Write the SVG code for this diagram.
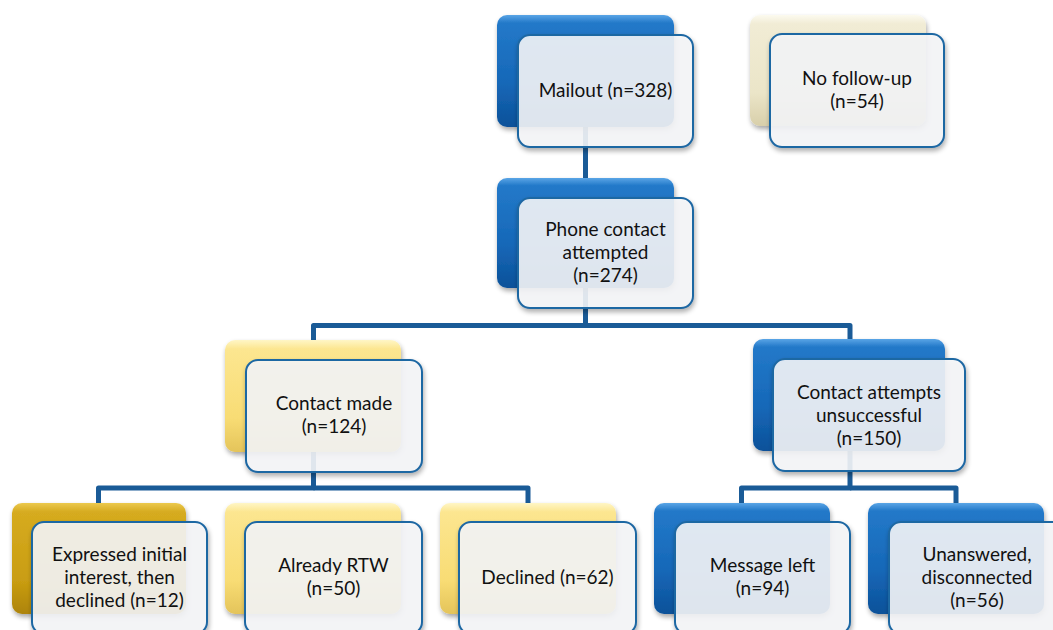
<svg xmlns="http://www.w3.org/2000/svg" width="1053" height="630" viewBox="0 0 1053 630">
  <defs>
    <linearGradient id="gBlue" x1="0" y1="0" x2="0" y2="1">
      <stop offset="0" stop-color="#5aa5e6"/>
      <stop offset="0.07" stop-color="#2379c9"/>
      <stop offset="0.6" stop-color="#1668b8"/>
      <stop offset="1" stop-color="#0c5199"/>
    </linearGradient>
    <linearGradient id="gYellow" x1="0" y1="0" x2="0" y2="1">
      <stop offset="0" stop-color="#fff6c6"/>
      <stop offset="0.08" stop-color="#fce690"/>
      <stop offset="0.7" stop-color="#f8dc74"/>
      <stop offset="1" stop-color="#e4c45a"/>
    </linearGradient>
    <linearGradient id="gGold" x1="0" y1="0" x2="0" y2="1">
      <stop offset="0" stop-color="#ecc94e"/>
      <stop offset="0.08" stop-color="#d6ab20"/>
      <stop offset="0.7" stop-color="#c99d12"/>
      <stop offset="1" stop-color="#ad8408"/>
    </linearGradient>
    <linearGradient id="gBeige" x1="0" y1="0" x2="0" y2="1">
      <stop offset="0" stop-color="#fcfaef"/>
      <stop offset="0.08" stop-color="#f1ecd5"/>
      <stop offset="0.7" stop-color="#ebe5c8"/>
      <stop offset="1" stop-color="#d8cfaa"/>
    </linearGradient>
    <filter id="shadow" x="-10%" y="-10%" width="130%" height="140%">
      <feGaussianBlur in="SourceAlpha" stdDeviation="2.5"/>
      <feOffset dx="1" dy="3" result="b"/>
      <feComponentTransfer><feFuncA type="linear" slope="0.35"/></feComponentTransfer>
      <feMerge><feMergeNode/><feMergeNode in="SourceGraphic"/></feMerge>
    </filter>
  </defs>
  <style>
    .back { rx: 10px; ry: 10px; filter: url(#shadow); }
    .blue { fill: url(#gBlue); }
    .yellow { fill: url(#gYellow); }
    .gold { fill: url(#gGold); }
    .beige { fill: url(#gBeige); }
    .front { fill: #f6f7f9; fill-opacity: 0.88; stroke: #1f67a3; stroke-width: 2; rx: 12px; ry: 12px; filter: url(#shadow); }
    .lbl { font-family: Lato, "Open Sans", sans-serif; font-size: 19px; fill: #111; text-anchor: middle; }
    .conn { fill: none; stroke: #1a5b97; stroke-width: 5; stroke-linejoin: round; }
  </style>

  <rect width="1053" height="630" fill="#ffffff"/>

  <!-- connectors sit beneath the boxes -->
  <g id="connectors">
    <path class="conn" d="M585.5,100 V190"/>
    <path class="conn" d="M585.5,280 V325.5 H313.5 V350"/>
    <path class="conn" d="M585.5,325.5 H850 V350"/>
    <path class="conn" d="M313.5,440 V488 H98.5 V512"/>
    <path class="conn" d="M313.5,488 H528 V512"/>
    <path class="conn" d="M850,440 V488 H741.5 V512"/>
    <path class="conn" d="M850,488 H956 V512"/>
  </g>

  <g id="mailout">
    <rect class="back blue" x="497" y="15" width="177" height="112"/>
    <rect class="front" x="518" y="35" width="175" height="112"/>
    <text class="lbl" x="605.5" y="97">Mailout (n=328)</text>
  </g>

  <g id="no-follow-up">
    <rect class="back beige" x="750" y="15" width="176" height="111"/>
    <rect class="front" x="770" y="34" width="174" height="113"/>
    <text class="lbl" x="857" y="85">No follow-up</text>
    <text class="lbl" x="857" y="108">(n=54)</text>
  </g>

  <g id="phone-contact">
    <rect class="back blue" x="497" y="178" width="177" height="110"/>
    <rect class="front" x="518" y="198" width="175" height="110"/>
    <text class="lbl" x="605.5" y="236">Phone contact</text>
    <text class="lbl" x="605.5" y="259">attempted</text>
    <text class="lbl" x="605.5" y="282">(n=274)</text>
  </g>

  <g id="contact-made">
    <rect class="back yellow" x="225" y="340" width="176" height="112"/>
    <rect class="front" x="246" y="360" width="176" height="112"/>
    <text class="lbl" x="334" y="410">Contact made</text>
    <text class="lbl" x="334" y="433">(n=124)</text>
  </g>

  <g id="contact-unsuccessful">
    <rect class="back blue" x="753" y="339" width="192" height="112"/>
    <rect class="front" x="773" y="359" width="192" height="112"/>
    <text class="lbl" x="869" y="399">Contact attempts</text>
    <text class="lbl" x="869" y="422">unsuccessful</text>
    <text class="lbl" x="869" y="445">(n=150)</text>
  </g>

  <g id="expressed-interest">
    <rect class="back gold" x="12" y="503" width="174" height="111"/>
    <rect class="front" x="32" y="522" width="175" height="112"/>
    <text class="lbl" x="119.5" y="561">Expressed initial</text>
    <text class="lbl" x="119.5" y="584">interest, then</text>
    <text class="lbl" x="119.5" y="607">declined (n=12)</text>
  </g>

  <g id="already-rtw">
    <rect class="back yellow" x="225" y="503" width="176" height="111"/>
    <rect class="front" x="245" y="522" width="177" height="112"/>
    <text class="lbl" x="333.5" y="572">Already RTW</text>
    <text class="lbl" x="333.5" y="595">(n=50)</text>
  </g>

  <g id="declined">
    <rect class="back yellow" x="440" y="503" width="176" height="111"/>
    <rect class="front" x="459" y="522" width="177" height="112"/>
    <text class="lbl" x="547.5" y="584">Declined (n=62)</text>
  </g>

  <g id="message-left">
    <rect class="back blue" x="654" y="503" width="176" height="111"/>
    <rect class="front" x="675" y="522" width="175" height="112"/>
    <text class="lbl" x="762.5" y="572">Message left</text>
    <text class="lbl" x="762.5" y="595">(n=94)</text>
  </g>

  <g id="unanswered">
    <rect class="back blue" x="868" y="503" width="176" height="111"/>
    <rect class="front" x="889" y="522" width="176" height="112"/>
    <text class="lbl" x="977" y="561">Unanswered,</text>
    <text class="lbl" x="977" y="584">disconnected</text>
    <text class="lbl" x="977" y="607">(n=56)</text>
  </g>
</svg>
